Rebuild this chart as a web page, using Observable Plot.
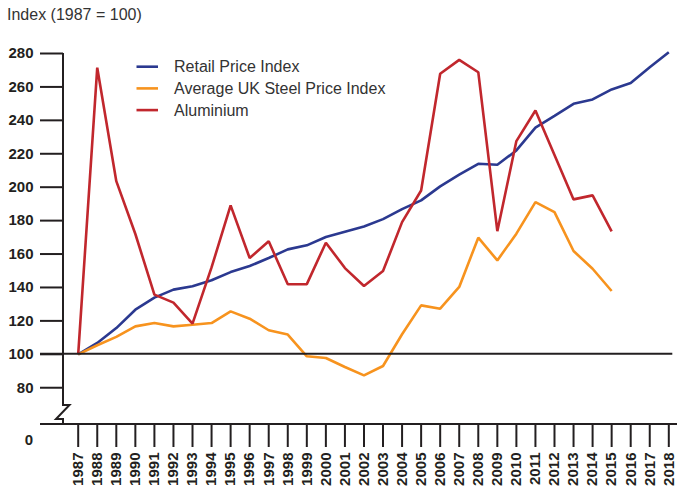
<!DOCTYPE html>
<html>
<head>
<meta charset="utf-8">
<script src="https://cdn.jsdelivr.net/npm/d3@7"></script>
<script src="https://cdn.jsdelivr.net/npm/@observablehq/plot@0.6"></script>
<style>
  html, body { margin: 0; padding: 0; background: #fff; }
  #title { height: 28px; box-sizing: border-box; padding: 6px 0 0 7px; line-height: 22px;
           font: 16px "Liberation Sans", Arial, sans-serif; color: #333; }
  #chart svg { display: block; }
  #chart g[aria-label="y-axis tick label"] text,
  #chart g[aria-label="x-axis tick label"] text { font-weight: bold; }
</style>
</head>
<body>
<div id="title">Index (1987 = 100)</div>
<div id="chart"></div>
<script>
const years = [1987,1988,1989,1990,1991,1992,1993,1994,1995,1996,1997,1998,1999,2000,2001,2002,
               2003,2004,2005,2006,2007,2008,2009,2010,2011,2012,2013,2014,2015,2016,2017,2018];
const yTicks = [80,100,120,140,160,180,200,220,240,260,280];
const seriesNames = ["Retail Price Index", "Average UK Steel Price Index", "Aluminium"];
const seriesColors = ["#2b3990", "#f7931e", "#c1272d"];

const retailPriceIndex = [100,106.8,115.7,126.7,133.9,138.7,140.7,144.3,149.2,152.8,157.6,162.8,165.2,170.2,173.4,176.5,
                          180.9,186.9,192.1,200.5,207.5,214,213.4,222,235.6,242.7,249.9,252.5,258.5,262.3,271.8,280.8];
const steelIndex = [100,105.4,110.4,116.7,118.7,116.7,117.7,118.7,125.7,121.3,114.4,111.8,98.8,97.8,92.4,87.4,
                    93.0,112,129.3,127.3,140.3,169.8,156.2,172.2,191.1,185.1,161.8,151.2,137.9];
const aluminium = [100,271.5,203.6,172,135.7,130.9,118.4,152,189.1,157.6,167.6,141.9,142,166.8,151.6,140.9,
                   149.8,179.1,198,267.9,276.2,268.8,173.7,227.6,245.9,219.3,192.7,195.1,173.6];

const seriesValues = [retailPriceIndex, steelIndex, aluminium];
const data = seriesValues.flatMap((vals, s) =>
  vals.map((value, i) => ({year: years[i], value, series: seriesNames[s]})));

const W = 677, H = 461, mL = 63, mT = 25, mB = 65;
const font = "'Liberation Sans', Arial, sans-serif";
const ink = "#231f20";

const plot = Plot.plot({
  width: W, height: H,
  marginTop: mT, marginBottom: mB, marginLeft: mL, marginRight: 0,
  style: {fontFamily: font, color: ink, background: "#fff"},
  x: {domain: [1987, 2018], insetLeft: 14.7, insetRight: 8.7},
  y: {domain: [58, 280]},
  color: {domain: seriesNames, range: seriesColors},
  marks: [
    Plot.axisY({ticks: yTicks, tickSize: 23, tickPadding: 7, fontSize: 15, fontWeight: "bold",
                strokeWidth: 2, label: null}),
    Plot.axisX({ticks: years, tickFormat: d => String(d), tickRotate: -90, tickSize: 23, tickPadding: 5,
                fontSize: 15, fontWeight: "bold", strokeWidth: 2, label: null}),
    Plot.line(data, {x: "year", y: "value", z: "series", stroke: "series", strokeWidth: 2.6,
                     strokeLinejoin: "miter", strokeLinecap: "butt"})
  ]
});

document.getElementById("chart").appendChild(plot);

// Decorations drawn with the plot's own scales
const sy = plot.scale("y"), sx = plot.scale("x");
const svg = d3.select(plot);
const g = svg.append("g").attr("stroke", ink).attr("stroke-width", 2).attr("fill", "none");
const yBase = sy.apply(58), y100 = sy.apply(100), yTop = sy.apply(280);
// bottom axis line
g.append("line").attr("x1", 40).attr("x2", W).attr("y1", yBase).attr("y2", yBase);
// 1987 = 100 baseline
g.append("line").attr("x1", 40).attr("x2", sx.apply(2018) + 4).attr("y1", y100).attr("y2", y100);
// y axis with break
const bTop = yBase - 19, bBot = yBase - 5;
g.append("path").attr("d",
  `M${mL},${yTop}V${bTop}H${mL + 6.5}L${mL - 7},${bBot}H${mL}V${yBase}`);
// "0" label
svg.append("text").attr("x", 33).attr("y", yBase + 16).attr("text-anchor", "end")
  .attr("dy", "0.35em").attr("font-size", 15).attr("font-weight", "bold")
  .attr("font-family", font).attr("fill", ink).text("0");
// legend
const leg = svg.append("g").attr("font-family", font).attr("font-size", 16).attr("text-anchor", "start");
seriesNames.forEach((name, i) => {
  const ly = 38.7 + i * 21.7;
  leg.append("line").attr("x1", 136.5).attr("x2", 158).attr("y1", ly).attr("y2", ly)
    .attr("stroke", seriesColors[i]).attr("stroke-width", 2.6);
  leg.append("text").attr("x", 174).attr("y", ly).attr("dy", "0.35em").attr("fill", "#333")
    .attr("text-anchor", "start").text(name);
});
</script>
</body>
</html>
